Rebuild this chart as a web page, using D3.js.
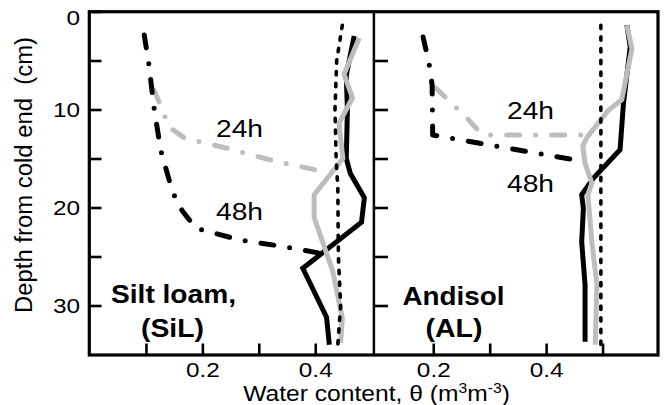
<!DOCTYPE html>
<html><head><meta charset="utf-8">
<script src="https://cdn.jsdelivr.net/npm/d3@7"></script>
<style>
body{margin:0;background:#fff}
svg{display:block}
text{font-family:"Liberation Sans",Arial,Helvetica,sans-serif;fill:#000}
</style>
</head><body>
<svg id="c" width="670" height="405"></svg>
<script>
// ---------------- DATA ----------------
const depthTicks = [0, 5, 10, 15, 20, 25, 30];
const depthTickLabels = [0, 10, 20, 30];
const thetaTicksSiL = [0.1, 0.2, 0.3, 0.4];
const thetaTicksAL = [0.2, 0.3, 0.4, 0.5];
const thetaTickLabels = [0.2, 0.4];

// Silt loam (SiL)
const silInitDepth = [1.4, 5, 10, 15, 18, 25, 30, 34];
const silInitTheta = [0.448, 0.438, 0.435, 0.437, 0.440, 0.441, 0.445, 0.440];
const sil48Depth = [2.5, 6.5, 10, 15, 16.5, 19, 21.5, 26.2, 31.2, 34];
const sil48Theta = [0.469, 0.455, 0.457, 0.455, 0.462, 0.487, 0.482, 0.378, 0.420, 0.425];
const sil24Depth = [2.7, 6.4, 8.8, 11.4, 15, 18.7, 21, 26.5, 31.3, 33.8];
const sil24Theta = [0.478, 0.451, 0.466, 0.442, 0.449, 0.398, 0.398, 0.431, 0.448, 0.445];
const sil24FrozenDepth = [8.0, 9.7, 11.8, 12.9, 14.0, 15.2, 16.2];
const sil24FrozenTheta = [0.114, 0.127, 0.141, 0.168, 0.247, 0.324, 0.404];
const sil48FrozenDepth = [2.4, 5.3, 9.7, 14.1, 18.4, 20.3, 22.1, 23.3, 24.0, 24.7];
const sil48FrozenTheta = [0.097, 0.105, 0.114, 0.126, 0.147, 0.164, 0.188, 0.265, 0.345, 0.412];

// Andisol (AL)
const alInitDepth = [1.4, 10, 20, 34];
const alInitTheta = [0.497, 0.497, 0.497, 0.497];
const al48Depth = [1.4, 3.6, 9.4, 14.1, 17.0, 18.7, 20.1, 23.5, 27.9, 33.7];
const al48Theta = [0.543, 0.549, 0.537, 0.531, 0.484, 0.463, 0.466, 0.463, 0.469, 0.469];
const al24Depth = [1.4, 3.8, 9.0, 10.1, 12.8, 13.7, 15.5, 17.5, 18.7, 23.5, 27.9, 34.0];
const al24Theta = [0.543, 0.552, 0.534, 0.510, 0.473, 0.465, 0.469, 0.481, 0.474, 0.481, 0.490, 0.487];
const al24FrozenDepth = [7.8, 9.1, 10.9, 12.4, 12.6, 12.6];
const al24FrozenTheta = [0.204, 0.228, 0.260, 0.284, 0.300, 0.480];
const al48FrozenDepth = [2.6, 5.3, 7.5, 12.6, 15.3];
const al48FrozenTheta = [0.182, 0.1925, 0.198, 0.199, 0.467];

// ---------------- CHART ----------------
const svg = d3.select('#c');
svg.append('rect').attr('width', 670).attr('height', 405).attr('fill', '#fff');

const y = d3.scaleLinear().domain([0, 35]).range([11.5, 354.5]);
const xL = d3.scaleLinear().domain([0, 0.505]).range([89.5, 374.5]);
const xR = d3.scaleLinear().domain([0.095, 0.6]).range([374, 659]);

const GRAY = '#bdbdbd';
const STRETCH = 1.16;

function drawLine(x, depth, theta, st) {
  const pts = depth.map((d, i) => [theta[i], d]);
  const p = svg.append('path').datum(pts)
    .attr('d', d3.line().x(q => x(q[0])).y(q => y(q[1])))
    .attr('fill', 'none')
    .attr('stroke', st.color)
    .attr('stroke-width', st.width)
    .attr('stroke-linejoin', st.join || 'miter')
    .attr('stroke-linecap', st.cap || 'butt');
  if (st.dash) p.attr('stroke-dasharray', st.dash);
}
const stSolid48 = {color: '#000', width: 5};
const stSolid24 = {color: GRAY, width: 5};
const stDD24 = {color: GRAY, width: 5, dash: '13,16,0,16', cap: 'round', join: 'round'};
const stDD48 = {color: '#000', width: 5, dash: '13,16,0,16', cap: 'round', join: 'round'};
const stInit = {color: '#000', width: 3.6, dash: '3.4,8.3', cap: 'round', join: 'round'};

function drawPanel(x, s48, s24, f24, f48, init) {
  drawLine(x, s48[0], s48[1], stSolid48);
  drawLine(x, s24[0], s24[1], stSolid24);
  drawLine(x, f24[0], f24[1], stDD24);
  drawLine(x, f48[0], f48[1], stDD48);
  drawLine(x, init[0], init[1], stInit);
}
drawPanel(xL, [sil48Depth, sil48Theta], [sil24Depth, sil24Theta],
  [sil24FrozenDepth, sil24FrozenTheta], [sil48FrozenDepth, sil48FrozenTheta], [silInitDepth, silInitTheta]);
drawPanel(xR, [al48Depth, al48Theta], [al24Depth, al24Theta],
  [al24FrozenDepth, al24FrozenTheta], [al48FrozenDepth, al48FrozenTheta], [alInitDepth, alInitTheta]);

function styleAxis(g, size) {
  g.attr('font-family', null).attr('font-size', null);
  g.select('.domain').remove();
  g.selectAll('.tick line').attr('stroke', '#000').attr('stroke-width', 2.6);
  g.selectAll('.tick text').style('font-size', size + 'px').attr('fill', '#000')
    .each(function () {
      const t = d3.select(this);
      const tx = +t.attr('x') || 0;
      t.attr('x', 0).attr('transform', `translate(${tx},0) scale(${STRETCH},1)`);
    });
}

// left depth axis
const gyL = svg.append('g').attr('transform', `translate(${xL(0)},0)`)
  .call(d3.axisLeft(y).tickValues(depthTicks).tickSizeInner(-12).tickSizeOuter(0).tickPadding(9.5)
    .tickFormat(d => depthTickLabels.includes(d) ? d : ''));
styleAxis(gyL, 21);
gyL.selectAll('.tick').filter(d => d === 0).select('text').attr('dy', '0.62em');

// right panel depth ticks
const gyR = svg.append('g').attr('transform', `translate(${xR(0.095)},0)`)
  .call(d3.axisLeft(y).tickValues(depthTicks.filter(d => d > 0)).tickSizeInner(-14).tickSizeOuter(0)
    .tickFormat(() => ''));
styleAxis(gyR, 21);

// bottom axes
const fmt = d3.format('.1f');
const gxL = svg.append('g').attr('transform', `translate(0,${y(35)})`)
  .call(d3.axisBottom(xL).tickValues(thetaTicksSiL).tickSizeInner(-11).tickSizeOuter(0).tickPadding(7.5)
    .tickFormat(d => thetaTickLabels.some(v => Math.abs(v - d) < 1e-9) ? fmt(d) : ''));
styleAxis(gxL, 21);
const gxR = svg.append('g').attr('transform', `translate(0,${y(35)})`)
  .call(d3.axisBottom(xR).tickValues(thetaTicksAL).tickSizeInner(-11).tickSizeOuter(0).tickPadding(7.5)
    .tickFormat(d => thetaTickLabels.some(v => Math.abs(v - d) < 1e-9) ? fmt(d) : ''));
styleAxis(gxR, 21);

// frames
const frameTop = 11.7, frameBot = 355;
svg.append('rect').attr('x', 89.3).attr('y', frameTop).attr('width', 658 - 89.3).attr('height', frameBot - frameTop)
  .attr('fill', 'none').attr('stroke', '#000').attr('stroke-width', 3.2);
svg.append('line').attr('x1', 373.9).attr('x2', 373.9).attr('y1', frameTop).attr('y2', frameBot)
  .attr('stroke', '#000').attr('stroke-width', 2.5);

// texts
function label(txt, x, yy, size, bold, len) {
  return svg.append('text').attr('x', x).attr('y', yy)
    .attr('text-anchor', 'middle').style('font-size', size + 'px')
    .style('font-weight', bold ? 'bold' : 'normal')
    .attr('textLength', len).attr('lengthAdjust', 'spacingAndGlyphs').text(txt);
}
label('Silt loam,', 173.5, 303, 25, true, 125);
label('(SiL)', 172.5, 337, 25, true, 63);
label('Andisol', 453.5, 305, 25, true, 102);
label('(AL)', 454, 337, 25, true, 57);
label('24h', 239.5, 136.5, 23, false, 47);
label('48h', 239.5, 220, 23, false, 47);
label('24h', 530.5, 118.5, 23, false, 47);
label('48h', 530.5, 191.5, 23, false, 47);

// y title
svg.append('text').attr('transform', 'translate(32,175) rotate(-90)')
  .attr('text-anchor', 'middle').style('font-size', '23px').style('white-space', 'pre')
  .attr('textLength', 276).attr('lengthAdjust', 'spacingAndGlyphs')
  .text('Depth from cold end  (cm)');

// x title
const xt = svg.append('text').attr('transform', `translate(376.5,400.5) scale(1.12,1)`)
  .attr('text-anchor', 'middle').style('font-size', '22px');
xt.append('tspan').text('Water content, \u03b8 (m');
xt.append('tspan').attr('dy', -8).style('font-size', '14px').text('3');
xt.append('tspan').attr('dy', 8).text('m');
xt.append('tspan').attr('dy', -8).style('font-size', '14px').text('-3');
xt.append('tspan').attr('dy', 8).text(')');
</script>
</body></html>
